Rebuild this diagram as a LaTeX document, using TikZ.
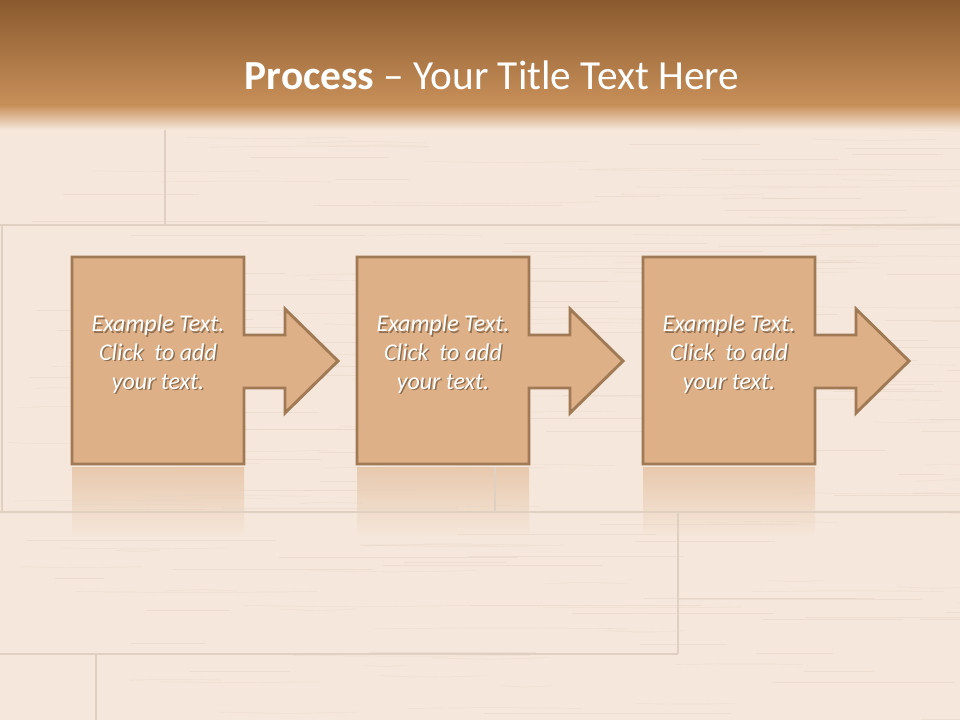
\documentclass[tikz,border=0pt]{standalone}
\usepackage{fontspec}
\setmainfont{Carlito}
\definecolor{woodbg}{HTML}{F5E7DB}
\definecolor{bandtop}{HTML}{8A5A2E}
\definecolor{bandmid}{HTML}{AE7A46}
\definecolor{bandbot}{HTML}{C8905A}
\definecolor{boxfill}{HTML}{DDB088}
\definecolor{boxline}{HTML}{A07A55}
\definecolor{seam}{HTML}{E0D0C2}
\definecolor{grain}{HTML}{E2D0C0}
\tikzset{
  calloutshape/.style={fill=boxfill, draw=boxline, line width=2.2pt, line join=miter},
  bodytext/.style={text=white, align=center, inner sep=0pt,
    font=\fontsize{18}{21.6}\selectfont\itshape},
  bodyshadow/.style={bodytext, text=black!75!brown, text opacity=0.45},
  seamline/.style={draw=seam, line width=0.8pt},
  refl/.style={top color=boxfill!55!woodbg, bottom color=woodbg, draw=none}
}
\begin{document}
\begin{tikzpicture}[x=0.75pt,y=-0.75pt]
\useasboundingbox (0,0) rectangle (960,720);
% background wood
\fill[woodbg] (0,0) rectangle (960,720);
% reflections
\foreach \L in {72,357,643}{
  \shade[refl] (\L,467) rectangle ++(172,70);
}
% grain
\pgfmathsetseed{7}
\foreach \i in {1,...,220}{
  \pgfmathsetmacro{\gy}{110+rnd*610}
  \pgfmathsetmacro{\gx}{rnd*960}
  \pgfmathsetmacro{\gl}{40+rnd*220}
  \pgfmathsetmacro{\gd}{(rnd-0.5)*4}
  \draw[grain, line width=0.35pt, opacity=0.4] (\gx,\gy) .. controls (\gx+\gl/2,\gy+\gd) .. (\gx+\gl,\gy);
}
% plank seams
\draw[seamline] (165,100) -- (165,225);
\draw[seamline] (0,225) -- (960,225);
\draw[seamline] (2,225) -- (2,512);
\draw[seamline] (0,512) -- (960,512);
\draw[seamline] (495,467) -- (495,512);
\draw[seamline] (678,512) -- (678,654);
\draw[seamline] (0,654) -- (678,654);
\draw[seamline] (96,654) -- (96,720);
% title band
\shade[top color=bandtop, middle color=bandmid, bottom color=bandbot] (0,0) rectangle (960,106);
\shade[top color=bandbot, bottom color=woodbg] (0,105) rectangle (960,130);
\node[text=white, inner sep=0pt, font=\fontsize{31}{37}\selectfont] (title) at (492,75)
  {\textbf{Process} – Your Title Text Here};
% callouts
\foreach \L/\n in {72/a,357/b,643/c}{
  \draw[calloutshape] (\L,257) -- (\L+172,257) -- (\L+172,335) -- (\L+213,335)
    -- (\L+213,309) -- (\L+266,361) -- (\L+213,413) -- (\L+213,388)
    -- (\L+172,388) -- (\L+172,464) -- (\L,464) -- cycle;
  \node[bodyshadow] (s\n) at (\L+87.5,355.5) {Example Text.\\Click\ \ to add\\your text.};
  \node[bodytext] (t\n) at (\L+86,354) {Example Text.\\Click\ \ to add\\your text.};
}
\end{tikzpicture}
\end{document}
